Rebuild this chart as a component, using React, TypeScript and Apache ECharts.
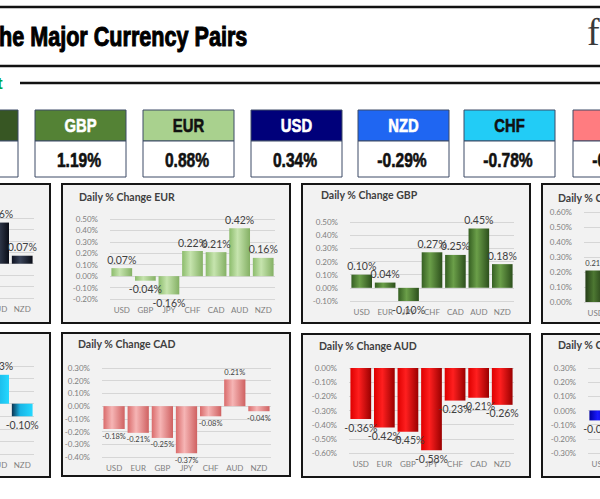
import React, { useEffect, useRef } from 'react';
import * as echarts from 'echarts';

// Ranking boxes (strongest to weakest)
const rankCurrencies = ['JPY', 'GBP', 'EUR', 'USD', 'NZD', 'CHF', 'CAD'];
const rankValues = [2.09, 1.19, 0.88, 0.34, -0.29, -0.78, -0.92];

// Daily % change panels
const panelCurrencies = ['USD', 'EUR', 'GBP', 'JPY', 'CHF', 'CAD', 'AUD', 'NZD'];

const usdCats = ['EUR', 'GBP', 'JPY', 'CHF', 'CAD', 'AUD', 'NZD'];
const usdVals = [-0.07, -0.1, -0.21, 0.11, 0.18, 0.36, 0.07];
const eurCats = ['USD', 'GBP', 'JPY', 'CHF', 'CAD', 'AUD', 'NZD'];
const eurVals = [0.07, -0.04, -0.16, 0.22, 0.21, 0.42, 0.16];
const gbpCats = ['USD', 'EUR', 'JPY', 'CHF', 'CAD', 'AUD', 'NZD'];
const gbpVals = [0.1, 0.04, -0.1, 0.27, 0.25, 0.45, 0.18];
const jpyCats = ['USD', 'EUR', 'GBP', 'CHF', 'CAD', 'AUD', 'NZD'];
const jpyVals = [0.21, 0.16, 0.1, 0.39, 0.37, 0.58, 0.28];
const chfCats = ['USD', 'EUR', 'GBP', 'JPY', 'CAD', 'AUD', 'NZD'];
const chfVals = [-0.11, -0.22, -0.27, -0.39, 0.08, 0.23, -0.1];
const cadCats = ['USD', 'EUR', 'GBP', 'JPY', 'CHF', 'AUD', 'NZD'];
const cadVals = [-0.18, -0.21, -0.25, -0.37, -0.08, 0.21, -0.04];
const audCats = ['USD', 'EUR', 'GBP', 'JPY', 'CHF', 'CAD', 'NZD'];
const audVals = [-0.36, -0.42, -0.45, -0.58, -0.23, -0.21, -0.26];
const nzdCats = ['USD', 'EUR', 'GBP', 'JPY', 'CHF', 'CAD', 'AUD'];
const nzdVals = [-0.07, -0.16, -0.18, -0.28, 0.1, 0.04, 0.26];

const panelCategories = [usdCats, eurCats, gbpCats, jpyCats, chfCats, cadCats, audCats, nzdCats];
const panelValues = [usdVals, eurVals, gbpVals, jpyVals, chfVals, cadVals, audVals, nzdVals];
const axisMins = [-0.3, -0.2, -0.1, 0, -0.4, -0.4, -0.6, -0.3];
const axisMaxs = [0.4, 0.5, 0.5, 0.6, 0.3, 0.3, 0, 0.3];

const TITLE_PREFIX = 'Daily % Change ';
const headline = 'he Major Currency Pairs';

// ---- styling / layout (not data) ----
const OFF = 180; // the chart canvas extends beyond the visible window on both sides
const HEAVY = '"Liberation Sans", Arial, sans-serif';
const UI = 'Lato, "Open Sans", sans-serif';

const headerColors: Record<string, [string, string]> = {
  JPY: ['#375623', '#ffffff'],
  GBP: ['#548235', '#ffffff'],
  EUR: ['#a9d18e', '#111111'],
  USD: ['#00007a', '#ffffff'],
  NZD: ['#1f66f2', '#ffffff'],
  CHF: ['#22ccf6', '#111111'],
  CAD: ['#ff7c80', '#ffffff'],
};
const boxX = [-73, 35, 143, 251, 358, 464, 573];

const barStops: Record<string, string[]> = {
  USD: ['#0d1120', '#3a4459', '#0a0d17'],
  EUR: ['#8cbc6c', '#c6e4ae', '#84b064'],
  GBP: ['#355f22', '#6b9f49', '#2c4f1c'],
  JPY: ['#243d17', '#4d7832', '#1b3011'],
  CHF: ['#0c3350', '#19b5e6', '#25d8ff'],
  CAD: ['#d96b6b', '#f6b5b5', '#cf6161'],
  AUD: ['#dd0000', '#ff1f1f', '#9a0000'],
  NZD: ['#0000a0', '#1a1aff', '#0000a0'],
};

type PL = { box: number[]; grid: number[]; title: number[]; lbl: number };
const layouts: PL[] = [
  { box: [-178, 184, 228, 139], grid: [-131, 218, 165, 80], title: [-162, 197], lbl: 10.5 },
  { box: [62, 184, 228, 139], grid: [110, 219, 165, 80], title: [79, 197], lbl: 10.5 },
  { box: [302, 184, 228, 139], grid: [350, 222, 164, 79], title: [321, 195], lbl: 10.5 },
  { box: [542, 184, 228, 139], grid: [584, 212, 164, 90], title: [558, 198], lbl: 7.5 },
  { box: [-178, 333, 228, 144], grid: [-131, 366, 165, 88], title: [-162, 345], lbl: 10.5 },
  { box: [62, 333, 228, 143], grid: [102, 368, 169, 89], title: [78, 344], lbl: 7.5 },
  { box: [302, 334, 228, 143], grid: [349, 368, 165, 85], title: [319, 346], lbl: 10.5 },
  { box: [542, 334, 228, 143], grid: [588, 368, 164, 85], title: [558, 345], lbl: 10.5 },
];

const fmt = (v: number) => (Math.abs(v) < 1e-9 ? 0 : v).toFixed(2) + '%';

export default function App() {
  const ref = useRef<HTMLDivElement>(null);
  useEffect(() => {
    if (!ref.current) return;
    const chart = echarts.init(ref.current, undefined, { renderer: 'svg' });

    const graphic: any[] = [];
    // top rules and headline
    graphic.push({ type: 'line', z: 5, shape: { x1: 0, y1: 7, x2: 600 + OFF * 2, y2: 7 }, style: { stroke: '#111', lineWidth: 2.5 } });
    graphic.push({
      type: 'text', z: 6, x: -1 + OFF, y: 37, scaleX: 0.8,
      style: {
        text: headline, fontSize: 27, fontWeight: 'bold', fontFamily: HEAVY, fill: '#000',
        stroke: '#000', lineWidth: 1, verticalAlign: 'middle',
      },
    });
    graphic.push({
      type: 'text', z: 5, x: 587 + OFF, y: 32,
      style: { text: 'f', fontSize: 38, fontFamily: '"Liberation Serif", "DejaVu Serif", serif', fill: '#3a3a3a', verticalAlign: 'middle' },
    });
    graphic.push({ type: 'line', z: 5, shape: { x1: 0, y1: 66, x2: 600 + OFF * 2, y2: 66 }, style: { stroke: '#111', lineWidth: 2.5 } });
    graphic.push({
      type: 'text', z: 5, x: -3 + OFF, y: 83,
      style: { text: 't', fontSize: 17, fontWeight: 'bold', fontFamily: HEAVY, fill: '#00a84a', verticalAlign: 'middle' },
    });
    graphic.push({ type: 'line', z: 5, shape: { x1: 20 + OFF, y1: 83, x2: 600 + OFF * 2, y2: 83 }, style: { stroke: '#111', lineWidth: 2.5 } });

    // ranking boxes
    rankCurrencies.forEach((c, i) => {
      const x = boxX[i];
      const [bg, fg] = headerColors[c];
      graphic.push({ type: 'rect', z: 5, shape: { x: x + OFF, y: 110, width: 91, height: 31 }, style: { fill: bg, stroke: '#3c4a66', lineWidth: 1 } });
      graphic.push({
        type: 'text', z: 6, x: x + 45.5 + OFF, y: 126, scaleX: 0.78,
        style: { text: c, fontSize: 19, fontWeight: 'bold', fontFamily: HEAVY, fill: fg, stroke: fg, lineWidth: 0.6, align: 'center', verticalAlign: 'middle' },
      });
      graphic.push({ type: 'rect', z: 5, shape: { x: x + OFF, y: 141, width: 91, height: 36 }, style: { fill: '#ffffff', stroke: '#3c4a66', lineWidth: 1 } });
      graphic.push({
        type: 'text', z: 6, x: x + 44 + OFF, y: 160, scaleX: 0.78,
        style: { text: fmt(rankValues[i]), fontSize: 20, fontWeight: 'bold', fontFamily: HEAVY, fill: '#111', stroke: '#111', lineWidth: 0.6, align: 'center', verticalAlign: 'middle' },
      });
    });

    const grids: any[] = [];
    const xAxes: any[] = [];
    const yAxes: any[] = [];
    const series: any[] = [];

    panelCurrencies.forEach((c, i) => {
      const L = layouts[i];
      graphic.push({
        type: 'rect', z: -1,
        shape: { x: L.box[0] + OFF, y: L.box[1], width: L.box[2], height: L.box[3] },
        style: { fill: '#f2f2f2', stroke: '#161616', lineWidth: 2 },
      });
      graphic.push({
        type: 'text', z: 6, x: L.title[0] + OFF, y: L.title[1],
        style: { text: TITLE_PREFIX + c, fontSize: 10.5, fontWeight: 'bold', fontFamily: UI, fill: '#404040', verticalAlign: 'middle' },
      });
      grids.push({ left: L.grid[0] + OFF, top: L.grid[1], width: L.grid[2], height: L.grid[3], containLabel: false });
      xAxes.push({
        type: 'category', gridIndex: i, data: panelCategories[i],
        axisLine: { show: false, onZero: false }, axisTick: { show: false },
        axisLabel: { interval: 0, fontSize: 8, color: '#7f7f7f', fontFamily: UI, margin: 7 },
      });
      yAxes.push({
        type: 'value', gridIndex: i, min: axisMins[i], max: axisMaxs[i], interval: 0.1,
        axisLine: { show: false }, axisTick: { show: false },
        axisLabel: { fontSize: 8, color: '#7f7f7f', fontFamily: UI, margin: 12, formatter: (v: number) => fmt(v) },
        splitLine: { lineStyle: { color: '#d6d6d6', width: 1 } },
      });
      const st = barStops[c];
      series.push({
        type: 'bar', xAxisIndex: i, yAxisIndex: i,
        barCategoryGap: '12%',
        itemStyle: {
          color: new echarts.graphic.LinearGradient(0, 0, 1, 0, [
            { offset: 0, color: st[0] },
            { offset: 0.4, color: st[1] },
            { offset: 1, color: st[2] },
          ]),
        },
        label: {
          show: true, fontSize: L.lbl, color: '#404040', fontFamily: UI, distance: 3,
          formatter: (p: any) => fmt(p.value),
        },
        data: panelValues[i].map((v) => ({ value: v, label: { position: v >= 0 ? 'top' : 'bottom' } })),
      });
    });

    chart.setOption({
      animation: false,
      backgroundColor: '#ffffff',
      graphic,
      grid: grids,
      xAxis: xAxes,
      yAxis: yAxes,
      series,
    });
    return () => chart.dispose();
  }, []);
  return (
    <div style={{ position: 'absolute', left: 0, top: 0, width: 600, height: 499, overflow: 'hidden', background: '#fff' }}>
      <div ref={ref} style={{ position: 'absolute', left: -OFF, top: 0, width: 600 + OFF * 2, height: 499 }} />
    </div>
  );
}
